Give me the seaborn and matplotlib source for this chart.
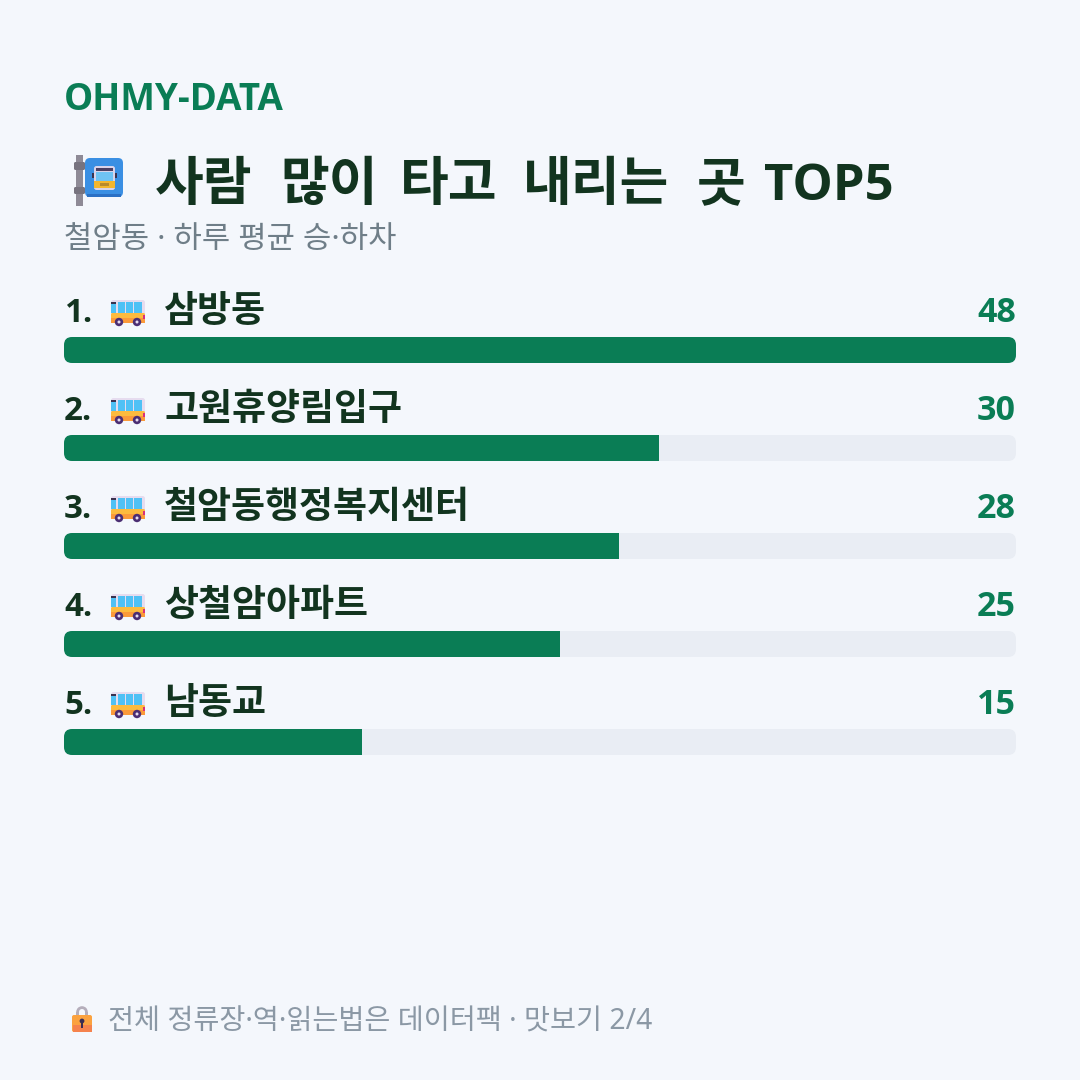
import matplotlib
matplotlib.use("Agg")
import matplotlib.pyplot as plt
import pandas as pd
import seaborn as sns
from matplotlib.patches import Circle, FancyBboxPatch, Rectangle, Wedge

stops = ["삼방동", "고원휴양림입구", "철암동행정복지센터", "상철암아파트", "남동교"]
riders = [48, 30, 28, 25, 15]
ranks = ["1.", "2.", "3.", "4.", "5."]
brand = "OHMY-DATA"
title_words = ["사람", "많이", "타고", "내리는", "곳", "TOP5"]
subtitle = "철암동 · 하루 평균 승·하차"
footer = "전체 정류장·역·읽는법은 데이터팩 · 맛보기 2/4"

BG = "#F4F7FC"
GREEN = "#0A7D55"
INK = "#12341F"
TRACK = "#E9EDF4"
GREY = "#6F7E88"
GREY_LIGHT = "#8B98A5"
FONTS = ["Noto Sans", "Noto Sans CJK KR", "DejaVu Sans"]
BOLD_FONTS = ["Open Sans", "Noto Sans CJK KR", "DejaVu Sans"]
PX = 0.72  # points per pixel at dpi 100

sns.set_theme(style="white")
plt.rcParams["font.family"] = FONTS

fig = plt.figure(figsize=(10.8, 10.8), dpi=100, facecolor=BG)

# Full-figure layer in pixel units for headings and icons
page = fig.add_axes([0, 0, 1, 1], zorder=2)
page.set_xlim(0, 1080)
page.set_ylim(1080, 0)
page.axis("off")
page.patch.set_alpha(0)

# Bar layer: each category occupies a 98 px row
ax = fig.add_axes([64 / 1080, 1 - 791 / 1080, 952 / 1080, 490 / 1080], zorder=1)
ax.set_facecolor(BG)
frame = pd.DataFrame({"stop": stops, "riders": riders, "track": max(riders)})
bar_width = 26 / 98
sns.barplot(data=frame, y="stop", x="track", color=TRACK, width=bar_width,
            saturation=1, ax=ax)
n_track = len(stops)
sns.barplot(data=frame, y="stop", x="riders", color=GREEN, width=bar_width,
            saturation=1, ax=ax)
ax.set_xlim(0, max(riders))
ax.set_ylim(len(stops) - 0.5, -0.5)
ax.axis("off")

# Fills are clipped by their rounded tracks, so only the track end shows a curve
x_per_px = max(riders) / 952
y_per_px = 1 / 98
radius = 8
for i, bar in enumerate(ax.patches):
    row = i % n_track
    clip = FancyBboxPatch(
        (0, row - 13 * y_per_px), max(riders), 26 * y_per_px,
        boxstyle=f"round,pad=0,rounding_size={radius * x_per_px}",
        mutation_aspect=y_per_px / x_per_px,
        transform=ax.transData, linewidth=0, facecolor="none",
    )
    ax.add_patch(clip)
    clip.set_visible(False)
    bar.set_clip_path(clip)
    bar.set_linewidth(0)


def rect(x, y, w, h, color, z):
    page.add_patch(Rectangle((x, y), w, h, fc=color, ec="none", zorder=z))


def rounded(x, y, w, h, r, color, z):
    page.add_patch(FancyBboxPatch((x, y), w, h, boxstyle=f"round,pad=0,rounding_size={r}",
                                  fc=color, ec="none", zorder=z))


def draw_bus(x, y):
    """Small side-view bus, anchored at its top-left corner."""
    rounded(x + 1, y + 2, 34, 23, 2.5, "#E6DCEF", 3)
    rounded(x + 1, y + 15, 34, 10, 1.5, "#FDBB3E", 4)
    rect(x + 1, y + 20, 34, 4.5, "#FB9A3A", 4)
    for wx, ww in ((x + 1, 4.5), (x + 8, 7), (x + 16, 7), (x + 24, 8)):
        rect(wx, y + 4, ww, 11, "#4FC1F5", 5)
    rect(x + 1, y + 4, 5, 2, "#3A3350", 6)
    rect(x + 33, y + 17, 2, 3.5, "#D8307A", 6)
    for wx in (x + 9, x + 27):
        page.add_patch(Circle((wx, y + 24), 4.2, fc="#4B2E73", ec="none", zorder=7))
        page.add_patch(Circle((wx, y + 24), 1.5, fc="#E6DCEF", ec="none", zorder=8))


def draw_stop_sign(x, y):
    """Bus-stop sign on a pole, anchored at its top-left corner."""
    rect(x + 2, y - 1, 7, 51, "#8E8A96", 3)
    for by, bh in ((y + 6, 8), (y + 31, 7)):
        rounded(x, by, 11, bh, 1.5, "#77737F", 4)
    rounded(x + 11, y + 2, 38, 39, 5, "#3A8FE3", 5)
    rect(x + 13, y + 38, 34, 3, "#2B70C4", 6)
    rounded(x + 20, y + 10, 21, 24, 2.5, "#D9D3EA", 6)
    rect(x + 22, y + 12, 17, 3, "#4A3F63", 7)
    rect(x + 22, y + 16, 17, 10, "#6FC3F4", 7)
    rect(x + 20, y + 25, 21, 7, "#F3B62F", 7)
    rect(x + 26, y + 27, 9, 3, "#B98A2C", 8)
    rect(x + 18, y + 17, 2, 5, "#3A3350", 7)
    rect(x + 41, y + 17, 2, 5, "#3A3350", 7)


def draw_lock(x, y):
    """Padlock, anchored at its top-left corner."""
    page.add_patch(Wedge((x + 10, y + 8), 5.8, 180, 360, width=2.8, fc="#B5AEBB", ec="none", zorder=3))
    rect(x + 4.2, y + 8, 2.8, 5, "#B5AEBB", 3)
    rect(x + 13, y + 8, 2.8, 5, "#B5AEBB", 3)
    rounded(x, y + 11, 20, 17, 2, "#FBA23F", 4)
    rect(x + 0.5, y + 21, 19, 6.5, "#F5824D", 5)
    page.add_patch(Circle((x + 10, y + 17), 2.4, fc="#3A2C52", ec="none", zorder=6))
    rect(x + 9, y + 17, 2, 6.5, "#3A2C52", 6)


# Headings
page.text(64, 110, brand, color=GREEN, fontsize=36.7 * PX, fontweight="bold", family=BOLD_FONTS, ha="left")
draw_stop_sign(74, 156)
title_x = [155, 280, 400, 523, 697, 764]
title_sizes = [53, 53, 53, 53, 53, 50.8]
for word, wx, size in zip(title_words, title_x, title_sizes):
    page.text(wx, 200, word, color=INK, fontsize=size * PX, fontweight="bold", family=BOLD_FONTS, ha="left")
page.text(64, 248, subtitle, color=GREY, fontsize=30.8 * PX, ha="left")

# Row labels and values
for i, (rank, stop, value) in enumerate(zip(ranks, stops, riders)):
    y = 322 + 98 * i
    page.text(64, y, rank, color=INK, fontsize=33 * PX, fontweight="bold", family=BOLD_FONTS, ha="left")
    draw_bus(110, y - 24)
    page.text(164, y, stop, color=INK, fontsize=37 * PX, fontweight="bold", family=BOLD_FONTS, ha="left")
    page.text(1016, y, str(value), color=GREEN, fontsize=34 * PX, fontweight="bold", family=BOLD_FONTS, ha="right")

# Footer
draw_lock(72, 1004)
page.text(108, 1030, footer, color=GREY_LIGHT, fontsize=28.3 * PX, ha="left")

fig.savefig("out.png", dpi=100, facecolor=BG)
